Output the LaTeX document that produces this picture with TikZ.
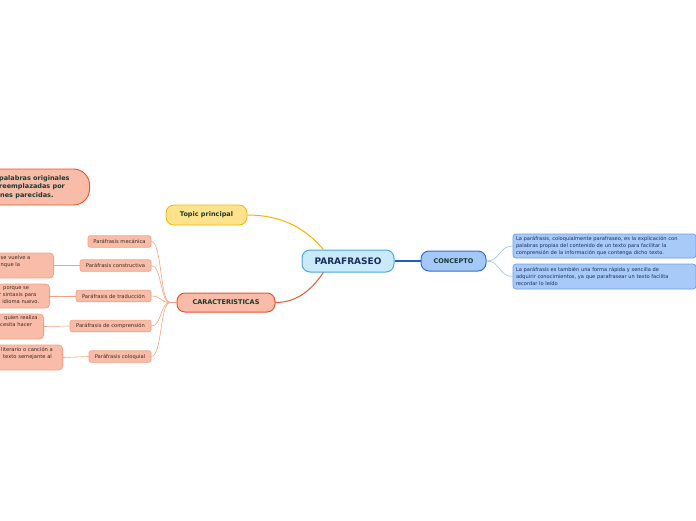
\documentclass[tikz,border=0pt]{standalone}
\usepackage{fontspec}
\setmainfont{DejaVu Sans}
\definecolor{pfill}{HTML}{C8EAFB}
\definecolor{pdraw}{HTML}{4AA8E0}
\definecolor{ptext}{HTML}{1A2E5C}
\definecolor{cfill}{HTML}{A4C9F8}
\definecolor{cdraw}{HTML}{2F6FD6}
\definecolor{cline}{HTML}{1F5FC0}
\definecolor{bfill}{HTML}{A8CAF8}
\definecolor{bdraw}{HTML}{6A9BE8}
\definecolor{bline}{HTML}{9DBDF0}
\definecolor{tfill}{HTML}{FFE28C}
\definecolor{tdraw}{HTML}{F4B400}
\definecolor{kfill}{HTML}{F9BCA9}
\definecolor{kdraw}{HTML}{E8542B}
\definecolor{sdraw}{HTML}{F4A080}
\definecolor{dtext}{HTML}{173A30}
\definecolor{stext}{HTML}{3A2A20}
\begin{document}
\begin{tikzpicture}[x=1pt,y=-1pt,
  mainbox/.style={draw=pdraw,fill=pfill,line width=1pt,rounded corners=8pt,inner sep=0pt,
    minimum width=92pt,minimum height=22pt,text=ptext,font=\fontsize{9}{10}\selectfont\bfseries},
  conbox/.style={draw=cdraw,fill=cfill,line width=1pt,rounded corners=8pt,inner sep=0pt,
    minimum width=65pt,minimum height=20pt,text=dtext,font=\fontsize{6.5}{7}\selectfont\bfseries},
  topbox/.style={draw=tdraw,fill=tfill,line width=0.8pt,rounded corners=8pt,inner sep=0pt,
    minimum width=81pt,minimum height=20pt,text=dtext,font=\fontsize{6.5}{7}\selectfont\bfseries},
  carbox/.style={draw=kdraw,fill=kfill,line width=1pt,rounded corners=8pt,inner sep=0pt,
    minimum width=98pt,minimum height=19pt,text=dtext,font=\fontsize{6.5}{7}\selectfont\bfseries},
  txtbox/.style={draw=bdraw,fill=bfill,line width=0.7pt,rounded corners=3pt,inner sep=0pt,
    minimum width=183pt,text width=177pt,align=left,text=ptext,font=\fontsize{5.1}{7}\selectfont},
  smallbox/.style={draw=sdraw,fill=kfill,line width=0.6pt,rounded corners=2pt,inner sep=0pt,
    minimum height=11.5pt,text=stext,font=\fontsize{5.2}{6}\selectfont},
  leftbox/.style={draw=sdraw,fill=kfill,line width=0.8pt,rounded corners=4pt,inner sep=0pt,anchor=east},
  lefttxt/.style={anchor=north west,inner sep=0pt,align=left,text=stext,font=\fontsize{5.2}{7}\selectfont},
  sline/.style={draw=sdraw,line width=0.6pt}
]
\useasboundingbox (0,0) rectangle (696,520);

% central and main topics
\node[mainbox] (p) at (348,261) {PARAFRASEO};
\node[conbox] (co) at (453.5,261) {CONCEPTO};
\node[topbox] (t) at (206.5,215) {Topic principal};
\node[carbox] (car) at (226,302.5) {CARACTERISTICAS};

% concept texts
\node[txtbox,minimum height=24pt] (c1) at (604.5,246) {La paráfrasis, coloquialmente parafraseo, es la explicación con\\palabras propias del contenido de un texto para facilitar la\\comprensión de la información que contenga dicho texto.};
\node[txtbox,minimum height=25pt] (c2) at (604.5,276.5) {La paráfrasis es también una forma rápida y sencilla de\\adquirir conocimientos, ya que parafrasear un texto facilita\\recordar lo leído};

% floating topic at top left
\node[draw=kdraw,fill=kfill,line width=0.9pt,rounded corners=16pt,anchor=east,
  minimum width=140pt,minimum height=36pt,inner sep=0pt] (fl) at (90,187) {};
\node[anchor=north west,inner sep=0pt,align=left,text=dtext,
  font=\fontsize{6.5}{8.5}\selectfont\bfseries] (flt) at (-1,175) {palabras originales\\reemplazadas por\\\hspace{1pt}nes parecidas.};

% characteristic boxes
\node[smallbox,minimum width=63pt] (pm) at (119.5,241.5) {Paráfrasis mecánica};
\node[smallbox,minimum width=71pt] (pc) at (115.5,265.5) {Paráfrasis constructiva};
\node[smallbox,minimum width=75pt] (pt) at (113.5,296) {Paráfrasis de traducción};
\node[smallbox,minimum width=81pt] (pcm) at (110.5,326) {Paráfrasis de comprensión};
\node[smallbox,minimum width=62pt] (pcl) at (120,356.5) {Paráfrasis coloquial};

% left explanation boxes (cut by page edge)
\node[leftbox,minimum width=80pt,minimum height=25pt] (la) at (54,265.5) {};
\node[lefttxt] (lat) at (0.5,255.5) {se vuelve a\\nque la};
\node[leftbox,minimum width=80pt,minimum height=24pt] (lb) at (50,296) {};
\node[lefttxt] (lbt) at (-1,286.5) {\hspace{4pt}porque se\\r sintaxis para\\l idioma nuevo.};
\node[leftbox,minimum width=80pt,minimum height=25pt] (lc) at (44,326.5) {};
\node[lefttxt] (lct) at (0,315.5) {\hspace{4pt}quien realiza\\cesita hacer};
\node[leftbox,minimum width=90pt,minimum height=25pt] (ld) at (63,357.5) {};
\node[lefttxt] (ldt) at (1,347.5) {literario o canción a\\\hspace{2pt}texto semejante al};

% main connectors
\draw[draw=tdraw,line width=1pt] (t.east) .. controls (290,215) and (312,236) .. (p.155);
\draw[draw=kdraw,line width=1pt] (car.east) .. controls (300,302.5) and (314,286) .. (p.205);
\draw[draw=cline,line width=1.2pt] (p.east) -- (co.west);
\draw[draw=bline,line width=0.6pt] (co.east) .. controls +(14,0) and +(-14,0) .. (c1.west);
\draw[draw=bline,line width=0.6pt] (co.east) .. controls +(14,0) and +(-14,0) .. (c2.west);

% characteristic connectors
\coordinate (hub) at (170,302.5);
\draw[sline] (car.west) -- (hub);
\foreach \n in {pm,pc,pt,pcm,pcl}{
  \draw[sline] (hub) .. controls (160,302.5) and (162,0|-\n.east) .. (\n.east);
}
\draw[sline] (pc.west) -- (la.east);
\draw[sline] (pt.west) -- (lb.east);
\draw[sline] (pcm.west) -- (lc.east);
\draw[sline] (pcl.west) -- (ld.east);
\end{tikzpicture}
\end{document}
